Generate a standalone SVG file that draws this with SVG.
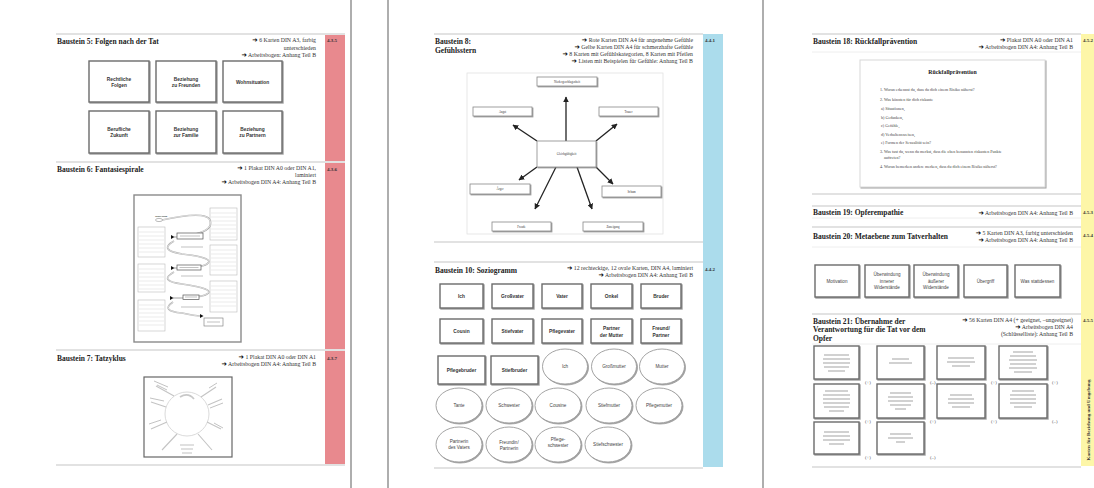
<svg xmlns="http://www.w3.org/2000/svg" width="1094" height="488" viewBox="0 0 1094 488">
<defs>
<filter id="sh" x="-10%" y="-10%" width="130%" height="130%"><feDropShadow dx="1" dy="1" stdDeviation="0.6" flood-color="#777" flood-opacity="0.7"/></filter>
<marker id="ah" viewBox="0 0 10 10" refX="9" refY="5" markerWidth="4.5" markerHeight="4.5" orient="auto"><path d="M0 0 L10 5 L0 10 z" fill="#222"/></marker>
</defs>
<style>
.pg{stroke:#9a9a9a;stroke-width:1.6}
.sep{stroke:#e2e2e2;stroke-width:1.8}
.sep2{stroke:#eeeeee;stroke-width:1}
.ttl{font-family:"Liberation Serif","DejaVu Serif",serif;font-weight:bold;font-size:7.5px;fill:#222}
.mat{font-family:"Liberation Serif","DejaVu Serif",serif;font-size:5.8px;fill:#333;text-anchor:end}
.bl{font-family:"DejaVu Sans",sans-serif;font-weight:bold;fill:#000;font-size:6.5px}
.no{font-family:"Liberation Serif","DejaVu Serif",serif;font-weight:bold;font-size:5px;fill:#333}
.card{fill:#fff;stroke:#6b6b6b;stroke-width:1.4;filter:url(#sh)}
.cl{font-family:"Liberation Sans",Arial,sans-serif;font-weight:bold;font-size:4.8px;fill:#333;text-anchor:middle}
.cn{font-family:"Liberation Sans",Arial,sans-serif;font-size:4.6px;fill:#444;text-anchor:middle}
.ov{fill:#fff;stroke:#9a9a9a;stroke-width:0.9;filter:url(#sh)}
.fb{fill:#fff;stroke:#888;stroke-width:0.8;filter:url(#sh)}
.fl{font-family:"Liberation Serif",serif;font-size:3px;fill:#333;text-anchor:middle}
.arr{stroke:#222;stroke-width:1.3;marker-end:url(#ah)}
.pst{fill:#fff;stroke:#8a8a8a;stroke-width:1.4}
.lb{fill:#fff;stroke:#bbb;stroke-width:0.6}
.ln{stroke:#d6d6d6;stroke-width:0.5}
.tl{stroke:#444;stroke-width:0.5}
.pm{font-family:"Liberation Serif",serif;font-size:4.8px;fill:#555}
.ws{font-family:"Liberation Serif","DejaVu Serif",serif;font-size:4.1px;fill:#444}
</style>

<g id="pages">
<line class="pg" x1="351" y1="0" x2="351" y2="488"/>
<line class="pg" x1="388" y1="0" x2="388" y2="488"/>
<line class="pg" x1="763" y1="0" x2="763" y2="488"/>
</g>

<!-- ============ PAGE 1 ============ -->
<g id="strip1">
<rect x="325" y="34" width="20" height="431" fill="#e8898e"/>
<text class="no" x="327" y="42">4.3.5</text>
<text class="no" x="327" y="171">4.3.6</text>
<text class="no" x="327" y="360">4.3.7</text>
</g>
<g id="lines1">
<line class="sep" x1="56" y1="34" x2="345" y2="34"/>
<line class="sep" x1="56" y1="162" x2="345" y2="162"/>
<line class="sep" x1="56" y1="350" x2="345" y2="350"/>
<line class="sep" x1="56" y1="465" x2="345" y2="465"/>
</g>

<g id="b5">
<text class="ttl" x="57" y="43.5">Baustein 5: Folgen nach der Tat</text>
<text class="mat" x="316" y="42"><tspan class="bl">➔</tspan>  6 Karten DIN A3, farbig</text>
<text class="mat" x="316" y="49.5">unterschieden</text>
<text class="mat" x="316" y="57"><tspan class="bl">➔</tspan>  Arbeitsbogen: Anhang Teil B</text>
</g>
<g id="b5-rechtliche"><rect class="card" x="89" y="61" width="60" height="41"/><text class="cl" x="119" y="80.5">Rechtliche</text><text class="cl" x="119" y="87">Folgen</text></g>
<g id="b5-freunde"><rect class="card" x="156" y="61" width="60" height="41"/><text class="cl" x="186" y="80.5">Beziehung</text><text class="cl" x="186" y="87">zu Freunden</text></g>
<g id="b5-wohn"><rect class="card" x="223" y="61" width="59" height="41"/><text class="cl" x="252.5" y="83.5">Wohnsituation</text></g>
<g id="b5-beruf"><rect class="card" x="89" y="111" width="60" height="42"/><text class="cl" x="119" y="130.5">Berufliche</text><text class="cl" x="119" y="137">Zukunft</text></g>
<g id="b5-familie"><rect class="card" x="156" y="111" width="60" height="42"/><text class="cl" x="186" y="130.5">Beziehung</text><text class="cl" x="186" y="137">zur Familie</text></g>
<g id="b5-partner"><rect class="card" x="223" y="111" width="59" height="42"/><text class="cl" x="252.5" y="130.5">Beziehung</text><text class="cl" x="252.5" y="137">zu Partnern</text></g>

<g id="b6">
<text class="ttl" x="57" y="171.5">Baustein 6: Fantasiespirale</text>
<text class="mat" x="316" y="170"><tspan class="bl">➔</tspan>  1 Plakat DIN A0 oder DIN A1,</text>
<text class="mat" x="316" y="177">laminiert</text>
<text class="mat" x="316" y="184"><tspan class="bl">➔</tspan>  Arbeitsbogen DIN A4: Anhang Teil B</text>
</g>
<g id="b6-poster">
<rect class="pst" x="134" y="195" width="107" height="147"/>
<rect class="lb" x="210" y="208" width="27" height="32"/>
<rect class="lb" x="210" y="245" width="27" height="30"/>
<rect class="lb" x="210" y="281" width="27" height="31"/>
<rect class="lb" x="138" y="227" width="27" height="30"/>
<rect class="lb" x="138" y="264" width="27" height="28"/>
<rect class="lb" x="138" y="300" width="27" height="31"/>
<path class="ln" d="M211 213h25M211 217h25M211 221h25M211 225h25M211 229h25M211 233h25M211 237h25M211 250h25M211 254h25M211 258h25M211 262h25M211 266h25M211 270h25M211 286h25M211 290h25M211 294h25M211 298h25M211 302h25M211 306h25M139 232h25M139 236h25M139 240h25M139 244h25M139 248h25M139 252h25M139 269h25M139 273h25M139 277h25M139 281h25M139 285h25M139 289h25M139 305h25M139 309h25M139 313h25M139 317h25M139 321h25M139 325h25"/>
<path d="M162 220 Q216 208 210 226 Q205 235 174 237 M174 241 Q158 250 182 254 Q216 258 207 264 Q201 268 174 268 M174 272 Q158 281 182 284 Q216 289 207 294 Q201 298 173 298 M173 302 Q160 311 182 313 Q195 316 201 316" fill="none" stroke="#aaa" stroke-width="1.6"/>
<path d="M162 220 Q216 208 210 226 Q205 235 174 237 M174 241 Q158 250 182 254 Q216 258 207 264 Q201 268 174 268 M174 272 Q158 281 182 284 Q216 289 207 294 Q201 298 173 298 M173 302 Q160 311 182 313 Q195 316 201 316" fill="none" stroke="#fff" stroke-width="0.6"/>
<ellipse cx="159" cy="220" rx="3.5" ry="1.6" fill="#fff" stroke="#777" stroke-width="0.5"/>
<text x="155" y="216.5" font-family="Liberation Serif,serif" font-weight="bold" font-size="2.6" fill="#333">Motivation</text>
<path d="M171 235l3.5 2-3.5 2z M171 266l3.5 2-3.5 2z M170 296l3.5 2-3.5 2z M200 314l3.5 2-3.5 2z" fill="#111"/>
<rect x="177" y="233" width="26" height="6" fill="#fff" stroke="#555" stroke-width="0.7"/>
<rect x="177" y="265" width="24" height="5" fill="#fff" stroke="#555" stroke-width="0.7"/>
<rect x="183" y="295" width="16" height="4.5" fill="#fff" stroke="#555" stroke-width="0.7"/>
<rect x="204" y="318" width="19" height="8" fill="#fff" stroke="#777" stroke-width="0.6"/>
<path d="M180 236h20M179.5 267.5h19M185 297h12M207 322h13M181 247h22M181 276h22M181 307h22" stroke="#999" stroke-width="0.6"/>
</g>

<g id="b7">
<text class="ttl" x="57" y="360.5">Baustein 7: Tatzyklus</text>
<text class="mat" x="316" y="359"><tspan class="bl">➔</tspan>  1 Plakat DIN A0 oder DIN A1</text>
<text class="mat" x="316" y="366"><tspan class="bl">➔</tspan>  Arbeitsbogen DIN A4: Anhang Teil B</text>
</g>
<g id="b7-poster">
<rect x="144" y="377" width="88" height="80" fill="#fff" stroke="#666" stroke-width="1.2"/>
<circle cx="187" cy="414" r="22" fill="none" stroke="#d0d0d0" stroke-width="0.8"/>
<path d="M174 396L156 386M201 397L216 387M166 407L151 402M208 405L222 399M167 422L151 429M207 422L221 429M177 434L162 450M198 434L212 450" stroke="#c4c4c4" stroke-width="1.1"/>
<path d="M180 397 Q188 392 194 399" fill="none" stroke="#c8c8c8" stroke-width="1.8"/>
<path d="M154 381L168 387M157 385L167 390M209 388L217 383M150 398L164 401M210 408L223 403M149 424L161 420M214 423L223 428M180 445h14M181 449h12M182 453h10" stroke="#999" stroke-width="0.6"/>
</g>

<!-- ============ PAGE 2 ============ -->
<g id="strip2">
<rect x="703" y="34" width="20" height="433" fill="#abdcec"/>
<text class="no" x="705" y="42">4.4.1</text>
<text class="no" x="705" y="271">4.4.2</text>
</g>
<g id="lines2">
<line class="sep" x1="434" y1="34" x2="703" y2="34"/>
<line class="sep" x1="434" y1="242" x2="703" y2="242"/>
<line class="sep" x1="434" y1="262" x2="703" y2="262"/>
<line class="sep" x1="434" y1="468" x2="703" y2="468"/>
</g>

<g id="b8">
<text class="ttl" x="435" y="44">Baustein 8:</text>
<text class="ttl" x="435" y="52.5">Gefühlsstern</text>
<text class="mat" x="693" y="42"><tspan class="bl">➔</tspan>  Rote Karten DIN A4 für angenehme Gefühle</text>
<text class="mat" x="693" y="49"><tspan class="bl">➔</tspan>  Gelbe Karten DIN A4 für schmerzhafte Gefühle</text>
<text class="mat" x="693" y="56"><tspan class="bl">➔</tspan>  8 Karten mit Gefühlskategorien,  8 Karten mit Pfeilen</text>
<text class="mat" x="693" y="63"><tspan class="bl">➔</tspan>  Listen mit Beispielen für Gefühle: Anhang Teil B</text>
</g>
<g id="b8-frame"><rect x="467" y="73" width="196" height="161" fill="#fff" stroke="#e2e2e2" stroke-width="0.8"/></g>
<g id="connectors">
<line class="arr" x1="566" y1="141" x2="566" y2="97"/>
<line class="arr" x1="537" y1="141" x2="513" y2="125"/>
<line class="arr" x1="596" y1="141" x2="617" y2="124"/>
<line class="arr" x1="537" y1="167" x2="519" y2="180"/>
<line class="arr" x1="556" y1="167" x2="535" y2="209"/>
<line class="arr" x1="577" y1="167" x2="592" y2="209"/>
<line class="arr" x1="596" y1="167" x2="613" y2="184"/>
</g>
<g id="f-nieder"><rect class="fb" x="537" y="77" width="60" height="9"/><text class="fl" x="567" y="82.8">Niedergeschlagenheit</text></g>
<g id="f-angst"><rect class="fb" x="473" y="107" width="59" height="9"/><text class="fl" x="502.5" y="112.8">Angst</text></g>
<g id="f-trauer"><rect class="fb" x="599" y="107" width="59" height="9"/><text class="fl" x="628.5" y="112.8">Trauer</text></g>
<g id="f-gleich"><rect class="fb" x="537" y="141" width="59" height="26"/><text class="fl" x="566.5" y="155">Gleichgültigkeit</text></g>
<g id="f-aerger"><rect class="fb" x="470" y="184" width="60" height="10"/><text class="fl" x="500" y="190">Ärger</text></g>
<g id="f-scham"><rect class="fb" x="602" y="186" width="59" height="11"/><text class="fl" x="631.5" y="192.5">Scham</text></g>
<g id="f-freude"><rect class="fb" x="492" y="222" width="59" height="9"/><text class="fl" x="521.5" y="227.8">Freude</text></g>
<g id="f-zuneigung"><rect class="fb" x="583" y="222" width="60" height="9"/><text class="fl" x="613" y="227.8">Zuneigung</text></g>

<g id="b10">
<text class="ttl" x="435" y="272.5">Baustein 10: Soziogramm</text>
<text class="mat" x="693" y="270"><tspan class="bl">➔</tspan>  12 rechteckige, 12 ovale Karten, DIN A4, laminiert</text>
<text class="mat" x="693" y="277"><tspan class="bl">➔</tspan>  Arbeitsbogen DIN A4: Anhang Teil B</text>
</g>
<g id="s-ich"><rect class="card" x="440" y="284" width="43" height="24"/><text class="cl" x="461.5" y="298">Ich</text></g>
<g id="s-grossvater"><rect class="card" x="492" y="284" width="41" height="24"/><text class="cl" x="512.5" y="298">Großvater</text></g>
<g id="s-vater"><rect class="card" x="542" y="284" width="40" height="24"/><text class="cl" x="562" y="298">Vater</text></g>
<g id="s-onkel"><rect class="card" x="591" y="284" width="41" height="24"/><text class="cl" x="611.5" y="298">Onkel</text></g>
<g id="s-bruder"><rect class="card" x="641" y="284" width="40" height="24"/><text class="cl" x="661" y="298">Bruder</text></g>
<g id="s-cousin"><rect class="card" x="440" y="319" width="43" height="24"/><text class="cl" x="461.5" y="333">Cousin</text></g>
<g id="s-stiefvater"><rect class="card" x="492" y="319" width="41" height="24"/><text class="cl" x="512.5" y="333">Stiefvater</text></g>
<g id="s-pflegevater"><rect class="card" x="542" y="319" width="40" height="24"/><text class="cl" x="562" y="333">Pflegevater</text></g>
<g id="s-partnermutter"><rect class="card" x="591" y="319" width="41" height="24"/><text class="cl" x="611.5" y="330">Partner</text><text class="cl" x="611.5" y="336.5">der Mutter</text></g>
<g id="s-freund"><rect class="card" x="641" y="319" width="40" height="24"/><text class="cl" x="661" y="330">Freund/</text><text class="cl" x="661" y="336.5">Partner</text></g>
<g id="s-pflegebruder"><rect class="card" x="438" y="356" width="47" height="28"/><text class="cl" x="461.5" y="371.5">Pflegebruder</text></g>
<g id="s-stiefbruder"><rect class="card" x="491" y="356" width="47" height="28"/><text class="cl" x="514.5" y="371.5">Stiefbruder</text></g>
<g id="o-ich"><ellipse class="ov" cx="565" cy="366.5" rx="22.5" ry="17.5"/><text class="cn" x="565" y="368">Ich</text></g>
<g id="o-grossmutter"><ellipse class="ov" cx="614" cy="366.5" rx="22.5" ry="17.5"/><text class="cn" x="614" y="368">Großmutter</text></g>
<g id="o-mutter"><ellipse class="ov" cx="662" cy="366.5" rx="22.5" ry="17.5"/><text class="cn" x="662" y="368">Mutter</text></g>
<g id="o-tante"><ellipse class="ov" cx="459" cy="405.5" rx="23" ry="17.5"/><text class="cn" x="459" y="407">Tante</text></g>
<g id="o-schwester"><ellipse class="ov" cx="509" cy="405.5" rx="23" ry="17.5"/><text class="cn" x="509" y="407">Schwester</text></g>
<g id="o-cousine"><ellipse class="ov" cx="558" cy="405.5" rx="23" ry="17.5"/><text class="cn" x="558" y="407">Cousine</text></g>
<g id="o-stiefmutter"><ellipse class="ov" cx="609" cy="405.5" rx="23" ry="17.5"/><text class="cn" x="609" y="407">Stiefmutter</text></g>
<g id="o-pflegemutter"><ellipse class="ov" cx="659" cy="405.5" rx="23" ry="17.5"/><text class="cn" x="659" y="407">Pflegemutter</text></g>
<g id="o-partnerin"><ellipse class="ov" cx="459" cy="444.5" rx="23" ry="17.5"/><text class="cn" x="459" y="443">Partnerin</text><text class="cn" x="459" y="449">des Vaters</text></g>
<g id="o-freundin"><ellipse class="ov" cx="509" cy="444.5" rx="23" ry="17.5"/><text class="cn" x="509" y="444">Freundin/</text><text class="cn" x="509" y="450">Partnerin</text></g>
<g id="o-pflegeschwester"><ellipse class="ov" cx="558" cy="444.5" rx="23" ry="17.5"/><text class="cn" x="558" y="441">Pflege-</text><text class="cn" x="558" y="447">schwester</text></g>
<g id="o-stiefschwester"><ellipse class="ov" cx="608" cy="444.5" rx="23" ry="17.5"/><text class="cn" x="608" y="446">Stiefschwester</text></g>

<!-- ============ PAGE 3 ============ -->
<g id="strip3">
<rect x="1081" y="34" width="20" height="432" fill="#fdf6a8"/>
<text class="no" x="1083" y="42">4.5.2</text>
<text class="no" x="1083" y="214">4.5.3</text>
<text class="no" x="1083" y="237">4.5.4</text>
<text class="no" x="1083" y="322">4.5.5</text>
<text class="no" transform="translate(1090 420) rotate(-90)" text-anchor="middle" font-size="5.3">Karten für Beziehung und Umgebung</text>
</g>
<g id="lines3">
<line class="sep" x1="812" y1="34" x2="1081" y2="34"/>
<line class="sep2" x1="812" y1="52" x2="1081" y2="52"/>
<line class="sep" x1="812" y1="194" x2="1081" y2="194"/>
<line class="sep" x1="812" y1="206" x2="1081" y2="206"/>
<line class="sep2" x1="812" y1="218" x2="1081" y2="218"/>
<line class="sep" x1="812" y1="227" x2="1081" y2="227"/>
<line class="sep2" x1="812" y1="247" x2="1081" y2="247"/>
<line class="sep" x1="812" y1="314" x2="1081" y2="314"/>
<line class="sep2" x1="812" y1="344" x2="1081" y2="344"/>
<line class="sep" x1="812" y1="467" x2="1081" y2="467"/>
</g>

<g id="b18">
<text class="ttl" x="813" y="43.5">Baustein 18: Rückfallprävention</text>
<text class="mat" x="1073" y="42"><tspan class="bl">➔</tspan>  Plakat DIN A0 oder DIN A1</text>
<text class="mat" x="1073" y="49"><tspan class="bl">➔</tspan>  Arbeitsbogen DIN A4: Anhang Teil B</text>
</g>
<g id="b18-sheet">
<rect x="860" y="60" width="185" height="127" fill="#fff" stroke="#d8d8d8" stroke-width="1" filter="url(#sh)"/>
<text x="952.5" y="74" text-anchor="middle" font-family="Liberation Serif,serif" font-weight="bold" font-size="5.8" fill="#222">Rückfallprävention</text>
<text class="ws" x="880" y="91">1. Woran erkennst du, dass du dich einem Risiko näherst?</text>
<text class="ws" x="880" y="100.5">2. Was könnten für dich riskante</text>
<text class="ws" x="881" y="110">a) Situationen,</text>
<text class="ws" x="881" y="118.5">b) Gedanken,</text>
<text class="ws" x="881" y="127">c) Gefühle,</text>
<text class="ws" x="881" y="135.5">d) Verhaltensweisen,</text>
<text class="ws" x="881" y="144">e) Formen der Sexualität sein?</text>
<text class="ws" x="880" y="153">3. Was tust du, wenn du merkst, dass die oben benannten riskanten Punkte</text>
<text class="ws" x="884" y="158.5">auftreten?</text>
<text class="ws" x="880" y="168">4. Woran bemerken andere merken, dass du dich einem Risiko näherst?</text>
</g>

<g id="b19">
<text class="ttl" x="813" y="215">Baustein 19: Opferempathie</text>
<text class="mat" x="1073" y="214.5"><tspan class="bl">➔</tspan>  Arbeitsbogen DIN A4: Anhang Teil B</text>
</g>

<g id="b20">
<text class="ttl" x="813" y="238.5">Baustein 20: Metaebene zum Tatverhalten</text>
<text class="mat" x="1073" y="235"><tspan class="bl">➔</tspan>  5 Karten DIN A3, farbig unterschieden</text>
<text class="mat" x="1073" y="242"><tspan class="bl">➔</tspan>  Arbeitsbogen DIN A4: Anhang Teil B</text>
</g>
<g id="m-motivation"><rect class="card" x="815" y="265" width="44" height="32"/><text class="cn" x="837" y="283">Motivation</text></g>
<g id="m-innere"><rect class="card" x="865" y="265" width="44" height="32"/><text class="cn" x="887" y="276">Überwindung</text><text class="cn" x="887" y="282.5">innerer</text><text class="cn" x="887" y="289">Widerstände</text></g>
<g id="m-aeussere"><rect class="card" x="914" y="265" width="44" height="32"/><text class="cn" x="936" y="276">Überwindung</text><text class="cn" x="936" y="282.5">äußerer</text><text class="cn" x="936" y="289">Widerstände</text></g>
<g id="m-uebergriff"><rect class="card" x="964" y="265" width="43" height="32"/><text class="cn" x="985.5" y="283">Übergriff</text></g>
<g id="m-stattdessen"><rect class="card" x="1015" y="265" width="45" height="32"/><text class="cn" x="1037.5" y="283">Was stattdessen</text></g>

<g id="b21">
<text class="ttl" x="813" y="323.5">Baustein 21: Übernahme der</text>
<text class="ttl" x="813" y="332">Verantwortung für die Tat vor dem</text>
<text class="ttl" x="813" y="340.5">Opfer</text>
<text class="mat" x="1073" y="322"><tspan class="bl">➔</tspan>  56 Karten DIN A4 (+ geeignet, –ungeeignet)</text>
<text class="mat" x="1073" y="329"><tspan class="bl">➔</tspan>  Arbeitsbogen DIN A4</text>
<text class="mat" x="1073" y="336">(Schlüsselliste): Anhang Teil B</text>
</g>
<g id="k1"><rect class="card" x="814" y="346" width="45" height="33"/><path class="tl" d="M824 355h25M823 359h27M823 363h27M824 367h25M828 371h17"/><text class="pm" x="865" y="384">(+)</text></g>
<g id="k2"><rect class="card" x="877" y="346" width="47" height="33"/><path class="tl" d="M892 359h17M889 363h23"/><text class="pm" x="930" y="384">(–)</text></g>
<g id="k3"><rect class="card" x="937" y="346" width="48" height="33"/><path class="tl" d="M948 358h26M947 362h28M952 366h18"/><text class="pm" x="991" y="384">(+)</text></g>
<g id="k4"><rect class="card" x="999" y="346" width="48" height="33"/><path class="tl" d="M1013 352h20M1010 356h26M1009 360h28M1010 364h26M1009 368h28M1014 372h18"/><text class="pm" x="1052" y="384">(+)</text></g>
<g id="k5"><rect class="card" x="814" y="384" width="45" height="34"/><path class="tl" d="M825 391h23M823 395h27M823 399h27M823 403h27M824 407h25M829 411h15"/><text class="pm" x="865" y="423">(+)</text></g>
<g id="k6"><rect class="card" x="877" y="384" width="47" height="34"/><path class="tl" d="M890 393h21M888 397h25M888 401h25M890 405h21M895 409h11"/><text class="pm" x="930" y="423">(+)</text></g>
<g id="k7"><rect class="card" x="937" y="384" width="48" height="34"/><path class="tl" d="M950 395h22M948 399h26M948 403h26M952 407h18"/><text class="pm" x="991" y="423">(+)</text></g>
<g id="k8"><rect class="card" x="999" y="384" width="48" height="34"/><path class="tl" d="M1012 391h22M1010 395h26M1010 399h26M1010 403h26M1014 407h18"/><text class="pm" x="1052" y="423">(–)</text></g>
<g id="k9"><rect class="card" x="814" y="422" width="45" height="32"/><path class="tl" d="M824 432h25M823 436h27M823 440h27M829 444h15"/><text class="pm" x="865" y="459">(+)</text></g>
<g id="k10"><rect class="card" x="877" y="422" width="47" height="32"/><path class="tl" d="M890 434h21M888 438h25M896 442h9"/><text class="pm" x="930" y="459">(–)</text></g>
</svg>
